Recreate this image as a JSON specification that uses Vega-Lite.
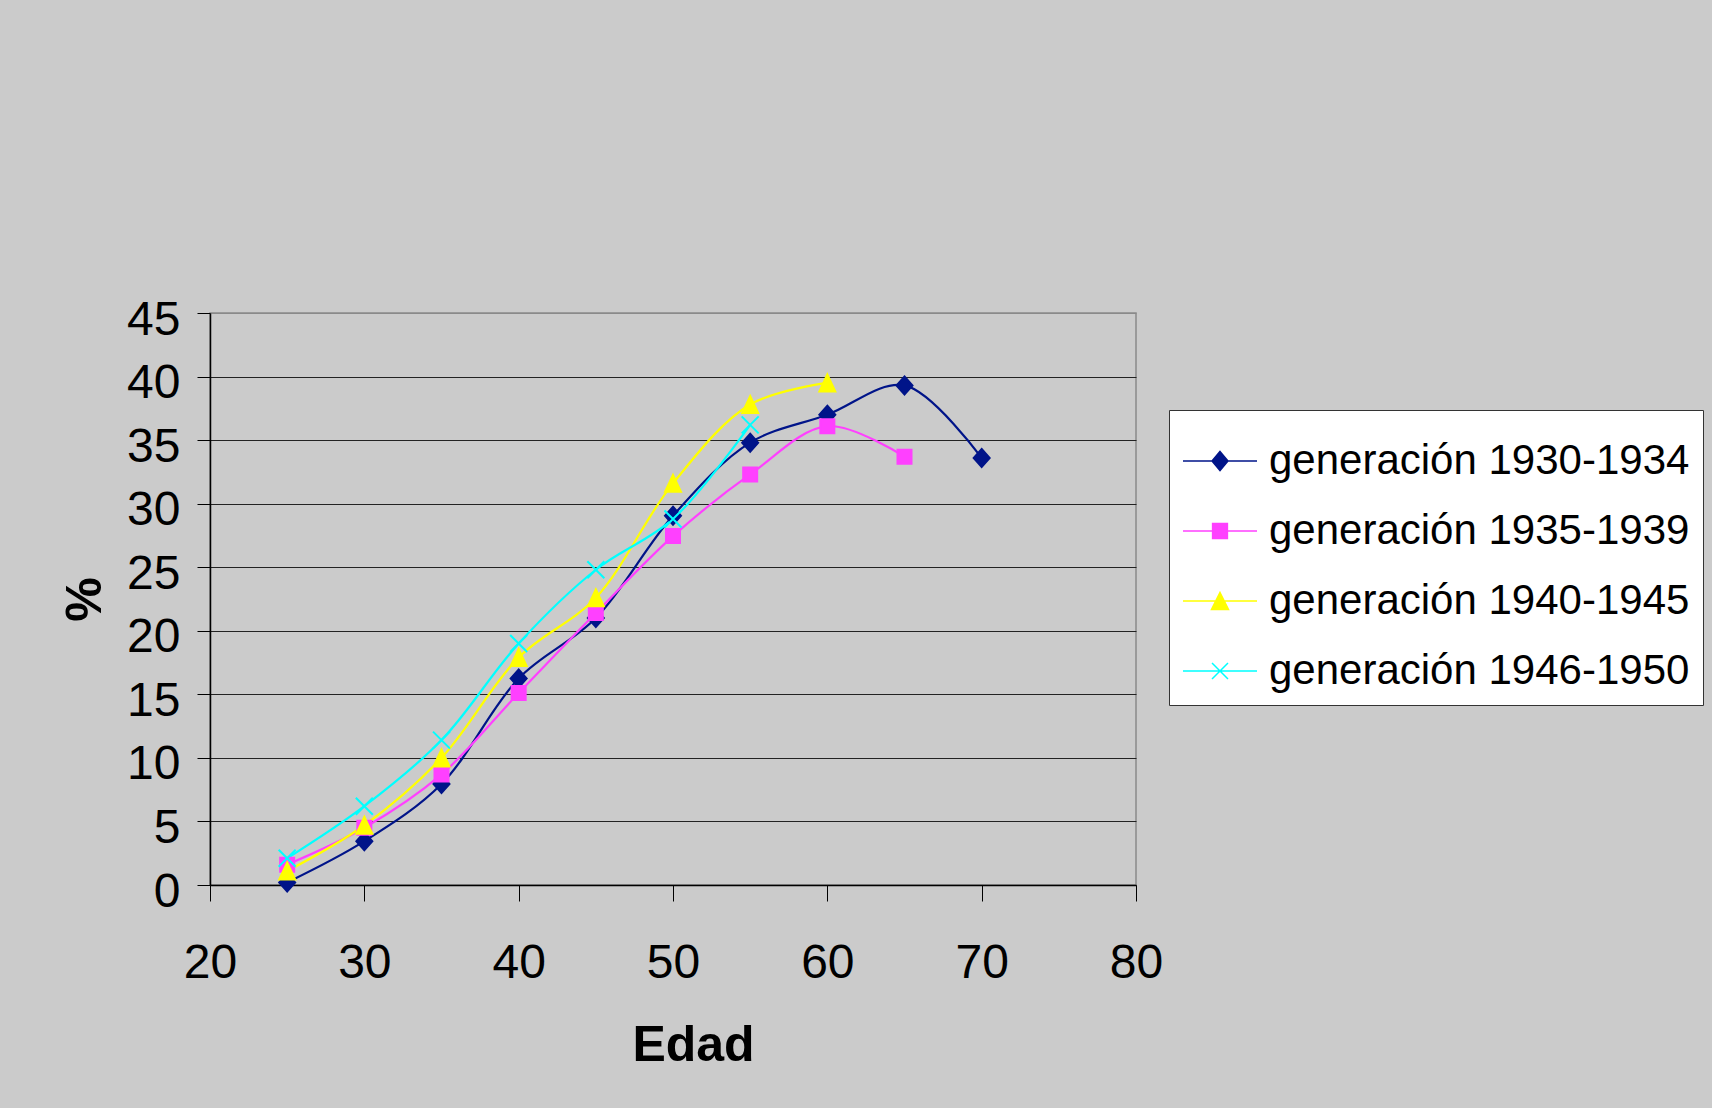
{
  "$schema": "https://vega.github.io/schema/vega-lite/v6.json",
  "width": 926,
  "height": 572,
  "autosize": "none",
  "padding": {"left": 210, "top": 313, "right": 576, "bottom": 223},
  "background": "#cbcbcb",
  "config": {
    "font": "Liberation Sans",
    "view": {"stroke": "#8a8a8a", "strokeWidth": 1.5, "fill": "#cbcbcb"},
    "legend": {
      "orient": "none",
      "legendX": 959,
      "legendY": 97,
      "padding": 13,
      "fillColor": "#ffffff",
      "strokeColor": "#333333",
      "labelFontSize": 42,
      "labelColor": "#000000",
      "labelFont": "Liberation Sans",
      "labelLimit": 800,
      "labelOffset": 11,
      "rowPadding": 11,
      "symbolSize": 5476,
      "symbolStrokeWidth": 1.5,
      "symbolOpacity": 1
    }
  },
  "data": {
    "values": [
      {"edad": 25, "pct": 0.2, "serie": "generación 1930-1934"},
      {"edad": 30, "pct": 3.45, "serie": "generación 1930-1934"},
      {"edad": 35, "pct": 7.95, "serie": "generación 1930-1934"},
      {"edad": 40, "pct": 16.25, "serie": "generación 1930-1934"},
      {"edad": 45, "pct": 21.0, "serie": "generación 1930-1934"},
      {"edad": 50, "pct": 29.05, "serie": "generación 1930-1934"},
      {"edad": 55, "pct": 34.8, "serie": "generación 1930-1934"},
      {"edad": 60, "pct": 37.0, "serie": "generación 1930-1934"},
      {"edad": 65, "pct": 39.3, "serie": "generación 1930-1934"},
      {"edad": 70, "pct": 33.6, "serie": "generación 1930-1934"},
      {"edad": 25, "pct": 1.6, "serie": "generación 1935-1939"},
      {"edad": 30, "pct": 4.5, "serie": "generación 1935-1939"},
      {"edad": 35, "pct": 8.7, "serie": "generación 1935-1939"},
      {"edad": 40, "pct": 15.1, "serie": "generación 1935-1939"},
      {"edad": 45, "pct": 21.4, "serie": "generación 1935-1939"},
      {"edad": 50, "pct": 27.45, "serie": "generación 1935-1939"},
      {"edad": 55, "pct": 32.3, "serie": "generación 1935-1939"},
      {"edad": 60, "pct": 36.1, "serie": "generación 1935-1939"},
      {"edad": 65, "pct": 33.7, "serie": "generación 1935-1939"},
      {"edad": 25, "pct": 1.1, "serie": "generación 1940-1945"},
      {"edad": 30, "pct": 4.7, "serie": "generación 1940-1945"},
      {"edad": 35, "pct": 10.0, "serie": "generación 1940-1945"},
      {"edad": 40, "pct": 17.9, "serie": "generación 1940-1945"},
      {"edad": 45, "pct": 22.6, "serie": "generación 1940-1945"},
      {"edad": 50, "pct": 31.6, "serie": "generación 1940-1945"},
      {"edad": 55, "pct": 37.8, "serie": "generación 1940-1945"},
      {"edad": 60, "pct": 39.5, "serie": "generación 1940-1945"},
      {"edad": 25, "pct": 2.1, "serie": "generación 1946-1950"},
      {"edad": 30, "pct": 6.2, "serie": "generación 1946-1950"},
      {"edad": 35, "pct": 11.4, "serie": "generación 1946-1950"},
      {"edad": 40, "pct": 19.0, "serie": "generación 1946-1950"},
      {"edad": 45, "pct": 24.8, "serie": "generación 1946-1950"},
      {"edad": 50, "pct": 28.8, "serie": "generación 1946-1950"},
      {"edad": 55, "pct": 36.2, "serie": "generación 1946-1950"}
    ]
  },
  "encoding": {
    "x": {
      "field": "edad",
      "type": "quantitative",
      "scale": {"domain": [20, 80], "nice": false, "zero": false},
      "axis": {
        "values": [20, 30, 40, 50, 60, 70, 80],
        "grid": false,
        "domainColor": "#000000",
        "domainWidth": 1.5,
        "tickColor": "#000000",
        "tickWidth": 1,
        "tickSize": 16,
        "labelFontSize": 48,
        "labelColor": "#000000",
        "labelPadding": 38,
        "labelFlush": false,
        "title": "Edad",
        "titleFontSize": 50,
        "titleFontWeight": "bold",
        "titleColor": "#000000",
        "titleX": 483,
        "titleY": 175,
        "titleAlign": "center",
        "titleBaseline": "alphabetic"
      }
    },
    "y": {
      "field": "pct",
      "type": "quantitative",
      "scale": {"domain": [0, 45], "nice": false},
      "axis": {
        "values": [0, 5, 10, 15, 20, 25, 30, 35, 40, 45],
        "grid": true,
        "gridColor": {"condition": {"test": "datum.value == 45", "value": "#8a8a8a"}, "value": "#222222"},
        "gridWidth": 1.2,
        "domainColor": "#000000",
        "domainWidth": 1.5,
        "tickColor": "#000000",
        "tickWidth": 1,
        "tickSize": 13,
        "labelFontSize": 48,
        "labelColor": "#000000",
        "labelPadding": 17,
        "labelOffset": 7,
        "labelFlush": false,
        "title": "%",
        "titleFontSize": 50,
        "titleFontWeight": "bold",
        "titleColor": "#000000",
        "titleAngle": -90,
        "titleX": -110,
        "titleY": 286,
        "titleAlign": "center",
        "titleBaseline": "alphabetic"
      }
    }
  },
  "layer": [
    {
      "mark": {"type": "line", "interpolate": "catmull-rom", "strokeWidth": 2.2},
      "encoding": {
        "stroke": {
          "field": "serie",
          "type": "nominal",
          "scale": {
            "domain": ["generación 1930-1934", "generación 1935-1939", "generación 1940-1945", "generación 1946-1950"],
            "range": ["#001489", "#ff40ff", "#ffff00", "#00ffff"]
          },
          "legend": null
        }
      }
    },
    {
      "mark": {"type": "point", "filled": true, "strokeWidth": 2, "size": 400, "opacity": 1},
      "encoding": {
        "fill": {
          "field": "serie",
          "type": "nominal",
          "scale": {
            "domain": ["generación 1930-1934", "generación 1935-1939", "generación 1940-1945", "generación 1946-1950"],
            "range": ["#001489", "#ff40ff", "#ffff00", "#00ffff"]
          },
          "legend": null
        },
        "stroke": {
          "field": "serie",
          "type": "nominal",
          "scale": {
            "domain": ["generación 1930-1934", "generación 1935-1939", "generación 1940-1945", "generación 1946-1950"],
            "range": ["#001489", "#ff40ff", "#ffff00", "#00ffff"]
          },
          "legend": null
        },
        "shape": {
          "field": "serie",
          "type": "nominal",
          "scale": {
            "domain": ["generación 1930-1934", "generación 1935-1939", "generación 1940-1945", "generación 1946-1950"],
            "range": [
              "M0,-0.9L0.8,0L0,0.9L-0.8,0Z",
              "M-0.7,-0.7L0.7,-0.7L0.7,0.7L-0.7,0.7Z",
              "M0,-0.85L0.8,0.85L-0.8,0.85Z",
              "M-0.85,-0.85L0.85,0.85M-0.85,0.85L0.85,-0.85"
            ]
          },
          "legend": null
        }
      }
    },
    {
      "mark": {"type": "point", "filled": true, "strokeWidth": 1.5, "opacity": 1},
      "encoding": {
        "x": {"field": "nx", "type": "quantitative"},
        "y": {"field": "ny", "type": "quantitative"},
        "fill": {
          "field": "serie",
          "type": "nominal",
          "scale": {
            "domain": ["generación 1930-1934", "generación 1935-1939", "generación 1940-1945", "generación 1946-1950"],
            "range": ["#001489", "#ff40ff", "#ffff00", "#00ffff"]
          },
          "legend": {"title": null}
        },
        "stroke": {
          "field": "serie",
          "type": "nominal",
          "scale": {
            "domain": ["generación 1930-1934", "generación 1935-1939", "generación 1940-1945", "generación 1946-1950"],
            "range": ["#001489", "#ff40ff", "#ffff00", "#00ffff"]
          },
          "legend": {"title": null}
        },
        "shape": {
          "field": "serie",
          "type": "nominal",
          "scale": {
            "domain": ["generación 1930-1934", "generación 1935-1939", "generación 1940-1945", "generación 1946-1950"],
            "range": [
              "M-1,0L1,0M0,-0.257L0.216,0L0,0.257L-0.216,0Z",
              "M-1,0L1,0M-0.2,-0.2L0.2,-0.2L0.2,0.2L-0.2,0.2Z",
              "M-1,0L1,0M0,-0.23L0.23,0.23L-0.23,0.23Z",
              "M-1,0L1,0M-0.216,-0.216L0.216,0.216M-0.216,0.216L0.216,-0.216"
            ]
          },
          "legend": {"title": null}
        }
      }
    }
  ],
  "resolve": {"scale": {"fill": "independent", "stroke": "independent", "shape": "independent"}}
}
